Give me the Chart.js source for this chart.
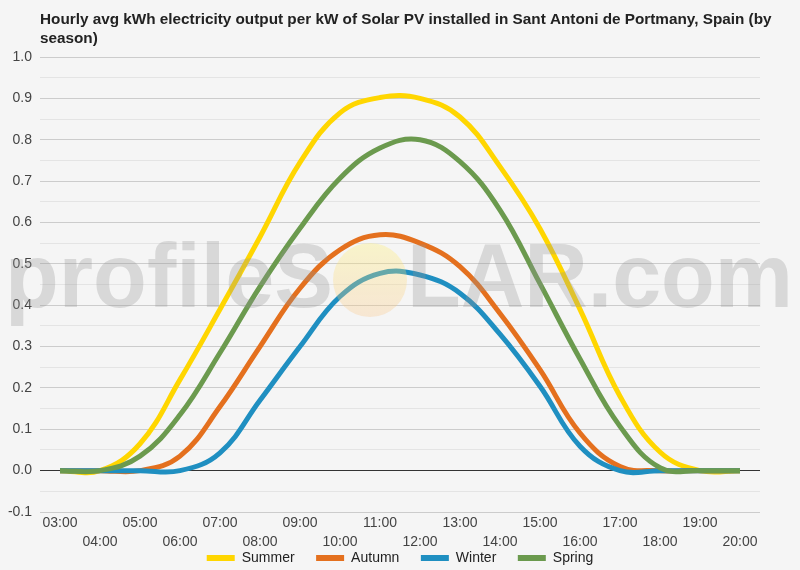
<!DOCTYPE html>
<html>
<head>
<meta charset="utf-8">
<title>Solar PV output by season</title>
<script src="https://cdn.jsdelivr.net/npm/chart.js@4"></script>
<style>
  html, body { margin: 0; padding: 0; background: #f5f5f5; overflow: hidden; }
  #wrap { width: 800px; height: 570px; position: relative; }
</style>
</head>
<body>
<div id="wrap"><canvas id="pvChart"></canvas></div>
<script>
const hours = ['03:00', '04:00', '05:00', '06:00', '07:00', '08:00', '09:00', '10:00', '11:00',
               '12:00', '13:00', '14:00', '15:00', '16:00', '17:00', '18:00', '19:00', '20:00'];

const summer = [0, 0, 0.065, 0.22, 0.39, 0.565, 0.745, 0.865, 0.902, 0.9, 0.855, 0.735, 0.585, 0.39, 0.18, 0.045, 0, 0];
const autumn = [0, 0, 0, 0.035, 0.155, 0.3, 0.441, 0.534, 0.57, 0.55, 0.493, 0.38, 0.244, 0.091, 0.01, 0, 0, 0];
const winter = [0, 0, 0, 0, 0.043, 0.17, 0.3, 0.421, 0.477, 0.473, 0.429, 0.33, 0.204, 0.059, 0, 0, 0, 0];
const spring = [0, 0, 0.035, 0.135, 0.285, 0.445, 0.586, 0.707, 0.78, 0.8, 0.747, 0.63, 0.452, 0.27, 0.107, 0.007, 0, 0];

const titleLines = ['Hourly avg kWh electricity output per kW of Solar PV installed in Sant Antoni de Portmany, Spain (by', 'season)'];

const colors = {
    summer: '#ffd600',
    autumn: '#e4701e',
    winter: '#1f8fc1',
    spring: '#6b9a4e'
};

const FONT = 'Arial, "Liberation Sans", sans-serif';

function series(label, data, color, order) {
    return {
        label: label,
        data: data,
        borderColor: color,
        backgroundColor: color,
        borderWidth: 5,
        pointRadius: 0,
        pointHoverRadius: 0,
        tension: 0.4,
        fill: false,
        order: order
    };
}

// title in the top-left corner, aligned with the plot
const titlePlugin = {
    id: 'leftTitle',
    afterDraw(chart) {
        const ctx = chart.ctx;
        ctx.save();
        ctx.font = 'bold 15.3px ' + FONT;
        ctx.fillStyle = '#222';
        ctx.textBaseline = 'alphabetic';
        ctx.textAlign = 'left';
        titleLines.forEach((line, i) => ctx.fillText(line, 40, 24 + i * 19));
        ctx.restore();
    }
};

// faded site watermark laid over the plot
const watermark = {
    id: 'watermark',
    afterDatasetsDraw(chart) {
        const ctx = chart.ctx;
        ctx.save();
        ctx.font = 'bold 90px ' + FONT;
        ctx.fillStyle = 'rgba(150,150,150,0.3)';
        ctx.textBaseline = 'alphabetic';
        ctx.textAlign = 'left';
        ctx.fillText('profileS', 5, 307, 328);
        ctx.fillText('LAR.com', 407, 307, 386);
        const grad = ctx.createLinearGradient(0, 243, 0, 317);
        grad.addColorStop(0, 'rgba(255,240,110,0.32)');
        grad.addColorStop(1, 'rgba(250,195,130,0.3)');
        ctx.fillStyle = grad;
        ctx.beginPath();
        ctx.arc(370, 280, 37, 0, Math.PI * 2);
        ctx.fill();
        ctx.restore();
    }
};

document.addEventListener('DOMContentLoaded', function() {
    const ctx = document.getElementById('pvChart').getContext('2d');
    const defaultLabels = Chart.defaults.plugins.legend.labels.generateLabels;

    new Chart(ctx, {
        type: 'line',
        data: {
            labels: hours,
            datasets: [
                series('Summer', summer, colors.summer, 3),
                series('Autumn', autumn, colors.autumn, 2),
                series('Winter', winter, colors.winter, 1),
                series('Spring', spring, colors.spring, 0)
            ]
        },
        options: {
            responsive: true,
            maintainAspectRatio: false,
            animation: false,
            layout: {
                padding: { top: 57, left: 0, right: 0, bottom: 0 }
            },
            plugins: {
                title: { display: false },
                tooltip: { enabled: false },
                legend: {
                    display: true,
                    position: 'bottom',
                    maxHeight: 40.5,
                    labels: {
                        boxWidth: 28,
                        boxHeight: 6,
                        padding: 21.5,
                        color: '#222',
                        font: { size: 14, family: FONT },
                        sort: (a, b) => a.datasetIndex - b.datasetIndex,
                        generateLabels: function(chart) {
                            return defaultLabels(chart).map(item => Object.assign(item, { lineWidth: 0 }));
                        }
                    }
                }
            },
            scales: {
                x: {
                    offset: true,
                    grid: { display: false, drawTicks: false },
                    border: { display: false },
                    afterFit: function(scale) { scale.height = 17.5; },
                    ticks: {
                        autoSkip: false,
                        maxRotation: 0,
                        mirror: true,
                        padding: -21,
                        color: '#444',
                        font: { size: 14, lineHeight: 1.36, family: FONT },
                        callback: function(value, index) {
                            const label = hours[index];
                            return index % 2 === 0 ? label : ['', label];
                        }
                    }
                },
                y: {
                    min: -0.1,
                    max: 1.0,
                    border: { display: false },
                    afterFit: function(scale) { scale.width = 40; },
                    grid: {
                        drawTicks: false,
                        lineWidth: 1,
                        color: function(c) {
                            const v = Math.round(c.tick.value * 20);
                            if (v === 0) return '#333';
                            return v % 2 === 0 ? '#cccccc' : '#e4e4e4';
                        }
                    },
                    ticks: {
                        stepSize: 0.05,
                        padding: 8,
                        color: '#444',
                        font: { size: 14, family: FONT },
                        callback: function(value) {
                            const v = Math.round(value * 20);
                            return v % 2 === 0 ? (v / 20).toFixed(1) : '';
                        }
                    }
                },
                // empty right-hand margin so the plot ends at the same place as the reference
                yRight: {
                    position: 'right',
                    display: true,
                    grid: { display: false, drawTicks: false },
                    border: { display: false },
                    ticks: { display: false },
                    afterFit: function(scale) { scale.width = 40; }
                }
            }
        },
        plugins: [titlePlugin, watermark]
    });
});
</script>
</body>
</html>
